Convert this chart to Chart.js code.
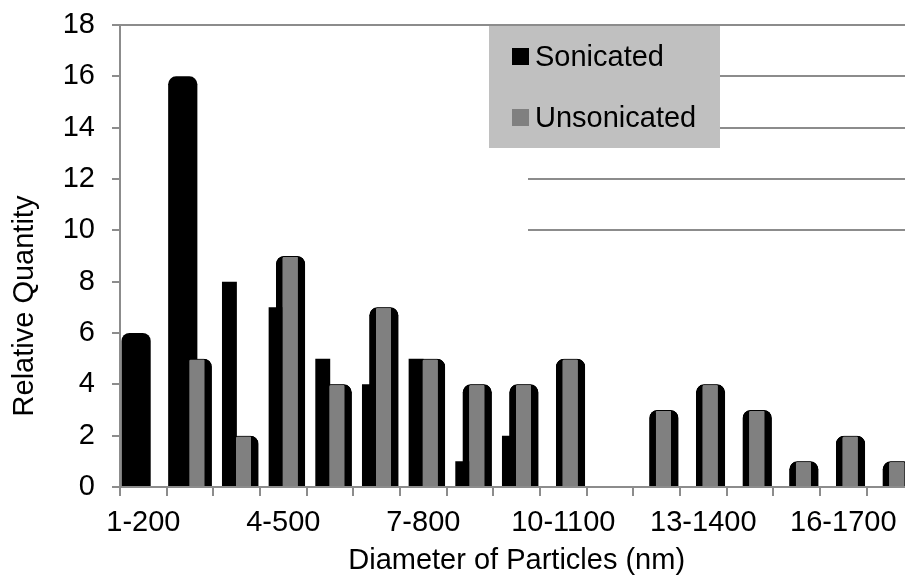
<!DOCTYPE html>
<html>
<head>
<meta charset="utf-8">
<style>
html,body{margin:0;padding:0;overflow:hidden;background:#fff;width:905px;height:578px}
canvas{display:block}
</style>
<script src="https://cdn.jsdelivr.net/npm/chart.js@4.4.1/dist/chart.umd.min.js"></script>
</head>
<body>
<canvas id="c" width="914" height="578"></canvas>
<script>
// ---- data ----
const categories = ['1-200','2-300','3-400','4-500','5-600','6-700','7-800','8-900','9-1000',
  '10-1100','11-1200','12-1300','13-1400','14-1500','15-1600','16-1700','17-1800'];
const tickLabels = ['1-200','','','4-500','','','7-800','','','10-1100','','','13-1400','','','16-1700',''];
const sonicated   = [6,16,8,7,5,4,5,1,2,0,0,0,0,0,0,0,0];
const unsonicated = [0,5,2,9,4,7,5,4,4,5,0,3,4,3,1,2,1];
const seriesNames = ['Sonicated','Unsonicated'];
const xTitle = 'Diameter of Particles (nm)';
const yTitle = 'Relative Quantity';
const yMin = 0, yMax = 18, yStep = 2;

// ---- style ----
const FONT = "'Liberation Sans', Arial, Helvetica, sans-serif";
const FS = 29;
const AXIS = '#8c8c8c';
const BLACK = '#000000';
const GRAY = '#808080';
const wideSonicated = [true,true,false,false,false,false,false,false,false,false,false,false,false,false,false,false,false];
const partialGrid = [[18, null],[16, 720],[14, 720],[12, 528],[10, 528]];

const shapePlugin = {
  id: 'shapes',
  afterDatasetsUpdate(chart) {
    const s = chart.getDatasetMeta(0).data;
    const u = chart.getDatasetMeta(1).data;
    s.forEach((el, i) => { if (wideSonicated[i]) el.width = u[i].width; });
  },
  beforeDatasetsDraw(chart) {
    const {ctx, chartArea, scales: {y}} = chart;
    ctx.save();
    ctx.strokeStyle = AXIS; ctx.lineWidth = 2;
    partialGrid.forEach(([v, from]) => {
      const py = Math.round(y.getPixelForValue(v));
      ctx.beginPath();
      ctx.moveTo(from === null ? chartArea.left : from, py);
      ctx.lineTo(chartArea.right, py);
      ctx.stroke();
    });
    ctx.restore();
  },
  afterDatasetsDraw(chart) {
    // front series drawn over the back one
    chart.getDatasetMeta(1).controller.draw();
    const ctx = chart.ctx;
    ctx.save();
    // legend box
    ctx.fillStyle = '#c0c0c0';
    ctx.fillRect(489, 26, 231, 122);
    ctx.font = FS + 'px ' + FONT;
    ctx.textBaseline = 'middle';
    ctx.textAlign = 'left';
    const cols = [BLACK, GRAY];
    [56.5, 117.5].forEach((cy, k) => {
      ctx.fillStyle = cols[k];
      ctx.fillRect(512, cy - 8.5, 17, 17);
      ctx.fillStyle = '#000';
      ctx.fillText(seriesNames[k], 535, cy + 1);
    });
    // y axis title
    ctx.translate(25, 306);
    ctx.rotate(-Math.PI / 2);
    ctx.textAlign = 'center';
    ctx.fillStyle = '#000';
    ctx.fillText(yTitle, 0, 0);
    ctx.restore();
  }
};

new Chart(document.getElementById('c'), {
  type: 'bar',
  data: {
    labels: categories,
    datasets: [
      {
        label: seriesNames[0],
        data: sonicated,
        backgroundColor: BLACK,
        borderWidth: 0,
        inflateAmount: 0,
        categoryPercentage: 0.62,
        barPercentage: 1.03,
        borderRadius: (c) => wideSonicated[c.dataIndex] ? {topLeft: 8, topRight: 8, bottomLeft: 0, bottomRight: 0} : 0,
        borderSkipped: 'start'
      },
      {
        label: seriesNames[1],
        data: unsonicated,
        backgroundColor: GRAY,
        borderColor: BLACK,
        borderWidth: {top: 1, left: 6.7, right: 7.5, bottom: 0},
        inflateAmount: 0,
        categoryPercentage: 0.62,
        barPercentage: 2.02,
        borderRadius: {topLeft: 8, topRight: 8, bottomLeft: 0, bottomRight: 0},
        borderSkipped: 'start'
      }
    ]
  },
  options: {
    responsive: false,
    animation: false,
    devicePixelRatio: 1,
    layout: {autoPadding: false, padding: {top: 25, right: 0.7, left: 0, bottom: 0}},
    plugins: {legend: {display: false}, tooltip: {enabled: false}},
    scales: {
      x: {
        type: 'category',
        offset: true,
        grid: {offset: true, drawOnChartArea: false, drawTicks: true, tickLength: 9, color: AXIS, lineWidth: 2},
        border: {color: AXIS, width: 2},
        ticks: {autoSkip: false, maxRotation: 0, minRotation: 0, padding: 10, color: '#000',
          font: {size: FS, family: FONT}, callback: (v, i) => tickLabels[i]},
        title: {display: true, text: xTitle, color: '#000',
          font: {size: FS, family: FONT}, padding: {top: 0, bottom: 0}},
        afterFit: (s) => { s.height = 91; s.paddingLeft = 0; s.paddingRight = 0; }
      },
      y: {
        min: yMin, max: yMax,
        grid: {drawOnChartArea: false, drawTicks: true, tickLength: 8, color: AXIS, lineWidth: 2},
        border: {color: AXIS, width: 2},
        ticks: {stepSize: yStep, padding: 17, color: '#000', font: {size: FS, family: FONT}},
        title: {display: false},
        afterFit: (s) => { s.width = 120; s.paddingTop = 0; s.paddingBottom = 0; }
      }
    }
  },
  plugins: [shapePlugin]
});
</script>
</body>
</html>
